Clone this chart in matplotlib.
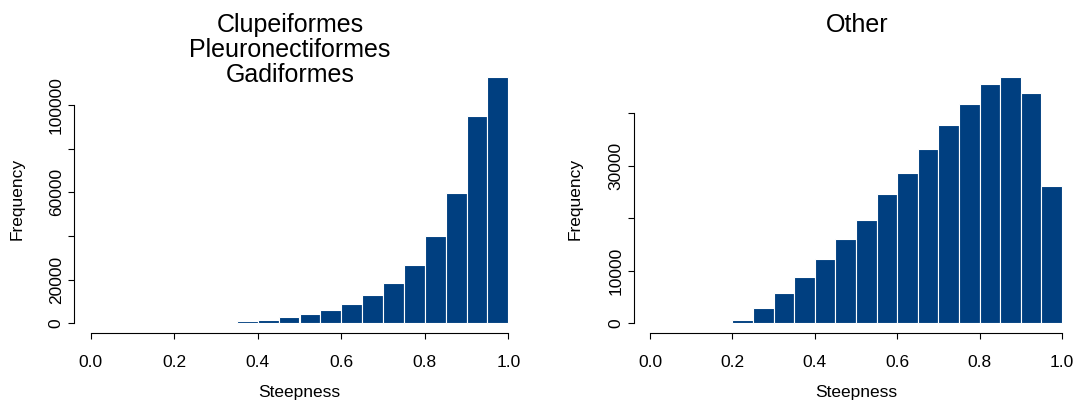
import numpy as np
import matplotlib
matplotlib.use("Agg")
import matplotlib.pyplot as plt

# -----------------------------------
# Histogram data (bin edges shared by both panels)
# -----------------------------------
bin_edges = np.round(np.arange(0, 1.0001, 0.05), 2)

counts_cpg = [0, 0, 0, 0, 150, 0, 0, 900, 1300, 2600,
              4000, 6100, 8700, 13000, 18300, 26900, 39800, 59800, 95100, 113000]
counts_other = [0, 0, 0, 0, 640, 2900, 5700, 8800, 12200, 16000,
                19700, 24500, 28600, 33100, 37700, 41700, 45500, 46900, 43800, 26100]

title_cpg = ["Clupeiformes", "Pleuronectiformes", "Gadiformes"]
title_other = ["Other"]

yticks_cpg = [0, 20000, 40000, 60000, 80000, 100000]
ylabels_cpg = ["0", "20000", "", "60000", "", "100000"]
yticks_other = [0, 10000, 20000, 30000, 40000]
ylabels_other = ["0", "10000", "", "30000", ""]

xticks = [0.0, 0.2, 0.4, 0.6, 0.8, 1.0]

BAR_COLOR = "#003F80"
W, H = 1082, 408

plt.rcParams["font.family"] = ["Liberation Sans", "DejaVu Sans"]

fig = plt.figure(figsize=(W / 100, H / 100), dpi=100)


def px_axes(x0, x1, y0, y1):
    return fig.add_axes([x0 / W, 1 - y1 / H, (x1 - x0) / W, (y1 - y0) / H])


def r_hist(ax, counts, yticks, ylabels):
    ax.bar(bin_edges[:-1], counts, width=0.05, align="edge",
           color=BAR_COLOR, edgecolor="white", linewidth=0.8)
    ymax = max(counts)
    ax.set_xlim(-0.04, 1.04)
    ax.set_ylim(-0.04 * ymax, 1.04 * ymax)

    ax.spines["top"].set_visible(False)
    ax.spines["right"].set_visible(False)
    ax.spines["bottom"].set_bounds(0, 1)
    ax.spines["left"].set_bounds(yticks[0], yticks[-1])
    for s in ("bottom", "left"):
        ax.spines[s].set_linewidth(0.8)

    ax.set_xticks(xticks)
    ax.set_xticklabels([f"{v:.1f}" for v in xticks])
    ax.set_yticks(yticks)
    ax.set_yticklabels(ylabels, rotation=90, va="center")
    ax.tick_params(axis="both", direction="out", length=4.3, width=0.8,
                   labelsize=12.5)
    ax.tick_params(axis="x", pad=11.5)
    ax.tick_params(axis="y", pad=3)


# -----------------------------------
# Left panel
# -----------------------------------
ax1 = px_axes(74, 525, 67, 333)
r_hist(ax1, counts_cpg, yticks_cpg, ylabels_cpg)

# -----------------------------------
# Right panel
# -----------------------------------
ax2 = px_axes(633.5, 1078.5, 67, 333)
r_hist(ax2, counts_other, yticks_other, ylabels_other)

# -----------------------------------
# Titles and axis labels
# -----------------------------------
for xc, lines in ((290, title_cpg), (857, title_other)):
    for i, line in enumerate(lines):
        fig.text(xc / W, 1 - (31.7 + 25 * i) / H, line, ha="center",
                 va="baseline", fontsize=18)

for xc in (299.5, 856):
    fig.text(xc / W, 1 - 393 / H, "Steepness", ha="center", va="center",
             fontsize=12.5)
for xc in (17, 575):
    fig.text(xc / W, 1 - 198.5 / H, "Frequency", ha="center", va="center",
             rotation=90, fontsize=12.5)

fig.savefig("out.png", dpi=100)
